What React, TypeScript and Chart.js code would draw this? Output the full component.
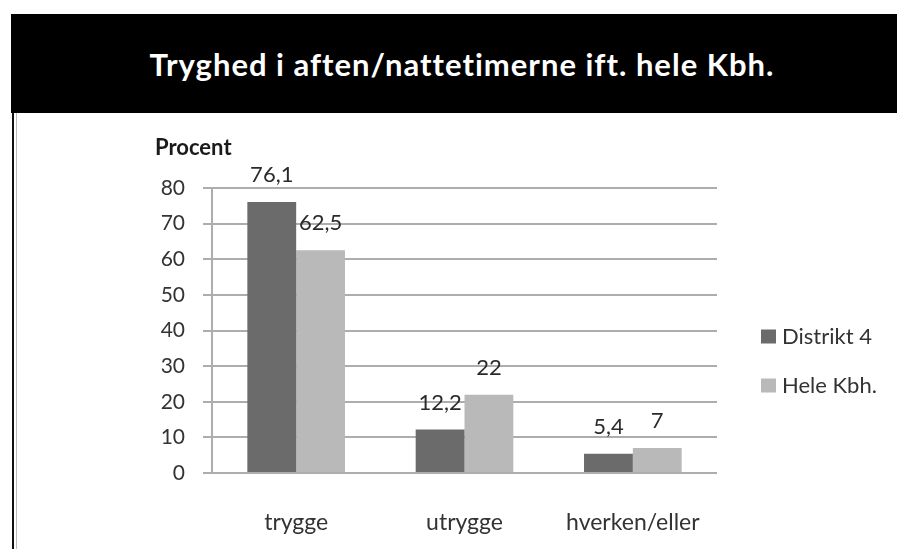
import React, { useEffect, useRef } from "react";
import { Chart, registerables } from "chart.js";

Chart.register(...registerables);

const TITLE = "Tryghed i aften/nattetimerne ift. hele Kbh.";
const Y_TITLE = "Procent";
const CATEGORIES = ["trygge", "utrygge", "hverken/eller"];
const DISTRIKT4 = [76.1, 12.2, 5.4];
const HELE_KBH = [62.5, 22, 7];
const SERIES_NAMES = ["Distrikt 4", "Hele Kbh."];
const COLORS = ["#6b6b6b", "#b9b9b9"];

const FONT = "Lato, 'Open Sans', sans-serif";

const fmt = (v: number) => String(v).replace(".", ",");

const extrasPlugin = {
  id: "extras",
  afterDatasetsDraw(chart: any) {
    const ctx = chart.ctx;
    const area = chart.chartArea;
    ctx.save();
    // data labels
    ctx.fillStyle = "#2a2a2a";
    ctx.font = `22px ${FONT}`;
    ctx.textAlign = "center";
    ctx.textBaseline = "middle";
    chart.data.datasets.forEach((ds: any, i: number) => {
      const meta = chart.getDatasetMeta(i);
      meta.data.forEach((bar: any, j: number) => {
        ctx.fillText(fmt(ds.data[j]), bar.x, bar.y - 27);
      });
    });
    // y title
    ctx.font = `bold 22px ${FONT}`;
    ctx.textAlign = "left";
    ctx.fillStyle = "#1a1a1a";
    ctx.fillText(Y_TITLE, 155, area.top - 40);
    // legend
    ctx.font = `22px ${FONT}`;
    chart.data.datasets.forEach((ds: any, i: number) => {
      const y = 223.5 + i * 49;
      ctx.fillStyle = ds.backgroundColor;
      ctx.fillRect(761, y - 7, 15, 14);
      ctx.fillStyle = "#333";
      ctx.fillText(ds.label, 782, y);
    });
    ctx.restore();
  },
};

export default function App() {
  const ref = useRef<HTMLCanvasElement>(null);
  useEffect(() => {
    if (!ref.current) return;
    const chart = new Chart(ref.current, {
      type: "bar",
      data: {
        labels: CATEGORIES,
        datasets: [
          { label: SERIES_NAMES[0], data: DISTRIKT4, backgroundColor: COLORS[0] },
          { label: SERIES_NAMES[1], data: HELE_KBH, backgroundColor: COLORS[1] },
        ],
      },
      options: {
        animation: false,
        responsive: false,
        maintainAspectRatio: false,
        layout: { padding: { left: 0, right: 180, top: 75, bottom: 0 } },
        datasets: { bar: { barPercentage: 1, categoryPercentage: 0.58 } },
        plugins: { legend: { display: false }, tooltip: { enabled: false } },
        scales: {
          x: {
            grid: { display: false },
            border: { display: false },
            ticks: { color: "#333", font: { family: FONT, size: 23 }, padding: 28 },
            afterFit: (s: any) => { s.height = 76; },
          },
          y: {
            min: 0,
            max: 80,
            ticks: { stepSize: 10, color: "#333", font: { family: FONT, size: 21 }, padding: 18 },
            grid: { color: "#adadad", lineWidth: 2, tickLength: 9 },
            border: { display: true, color: "#adadad", width: 2 },
            afterFit: (s: any) => { s.width = 212; },
          },
        },
      },
      plugins: [extrasPlugin],
    } as any);
    return () => chart.destroy();
  }, []);

  return (
    <div style={{ position: "fixed", left: 0, top: 0, width: 897, height: 549, background: "#fff", overflow: "hidden" }}>
      <div
        style={{
          position: "absolute", left: 11, top: 14, width: 886, height: 99, background: "#000",
          color: "#fff", display: "flex", alignItems: "center", justifyContent: "center",
          fontFamily: FONT, fontWeight: "bold", fontSize: 31, letterSpacing: 1, paddingLeft: 16, boxSizing: "border-box",
        }}
      >
        {TITLE}
      </div>
      <div style={{ position: "absolute", left: 12, top: 113, width: 2, height: 436, background: "#111" }} />
      <div style={{ position: "absolute", left: 16, top: 113, width: 1, height: 436, background: "#bbb" }} />
      <canvas ref={ref} width={897} height={436} style={{ position: "absolute", left: 0, top: 113, width: 897, height: 436 }} />
    </div>
  );
}
